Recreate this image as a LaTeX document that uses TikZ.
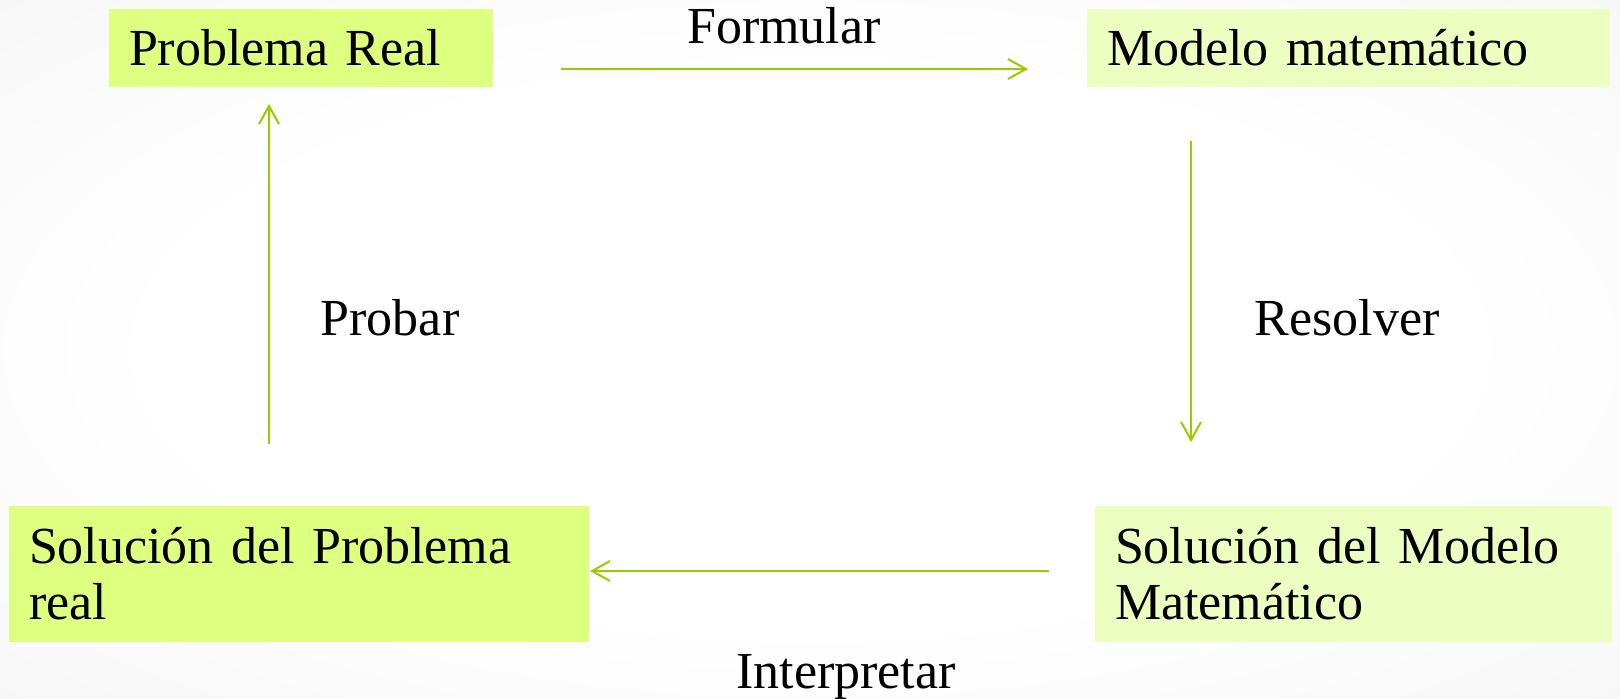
\documentclass[tikz,border=0pt]{standalone}
\usepackage{fontspec}
\setmainfont{Liberation Serif}
\usetikzlibrary{arrows.meta}
\definecolor{boxL}{HTML}{DFFF80}
\definecolor{boxR}{HTML}{EDFFC0}
\definecolor{arr}{HTML}{99CC00}
\pgfdeclareradialshading{bgshade}{\pgfpoint{0bp}{0bp}}{color(0bp)=(white); color(20bp)=(white); color(50bp)=(black!6); color(72bp)=(black!11)}
\begin{document}
\begin{tikzpicture}[x=0.5pt,y=-0.5pt,
  box/.style={rectangle, inner xsep=10pt, inner ysep=0pt, align=left, font=\fontsize{26}{28}\selectfont, anchor=center},
  lbl/.style={font=\fontsize{26}{28}\selectfont, anchor=base, inner sep=0pt},
  conn/.style={draw=arr, line width=1pt, -{Straight Barb[length=9pt,width=10pt,line width=1pt]}}]
\useasboundingbox (0,0) rectangle (1620,699);
\shade[shading=bgshade] (0,0) rectangle (1620,699);
% boxes
\node[box, fill=boxL, minimum height=39pt, text width=172pt] (pr) at (301,48) {Problema Real};
\node[box, fill=boxR, minimum height=39pt, text width=241.5pt] (mm) at (1348.5,48) {Modelo matemático};
\node[box, fill=boxR, minimum height=68pt, text width=238.5pt] (smm) at (1353.5,574) {Solución del Modelo\\Matemático};
\node[box, fill=boxL, minimum height=68pt, text width=270pt] (spr) at (299,574) {Solución del Problema\\real};
% connector end points
\coordinate (f1) at (561,69);
\coordinate (f2) at (1028,69);
\coordinate (r1) at (1191,141);
\coordinate (r2) at (1191,442);
\coordinate (i1) at (1049,571);
\coordinate (i2) at (590,571);
\coordinate (p1) at (269,444);
\coordinate (p2) at (269,104);
\draw[conn] (f1) -- (f2);
\draw[conn] (r1) -- (r2);
\draw[conn] (i1) -- (i2);
\draw[conn] (p1) -- (p2);
% labels
\node[lbl] (lf) at (784,44) {Formular};
\node[lbl] (lr) at (1347,336) {Resolver};
\node[lbl] (lp) at (390,336) {Probar};
\node[lbl] (li) at (846,688) {Interpretar};
\end{tikzpicture}
\end{document}
